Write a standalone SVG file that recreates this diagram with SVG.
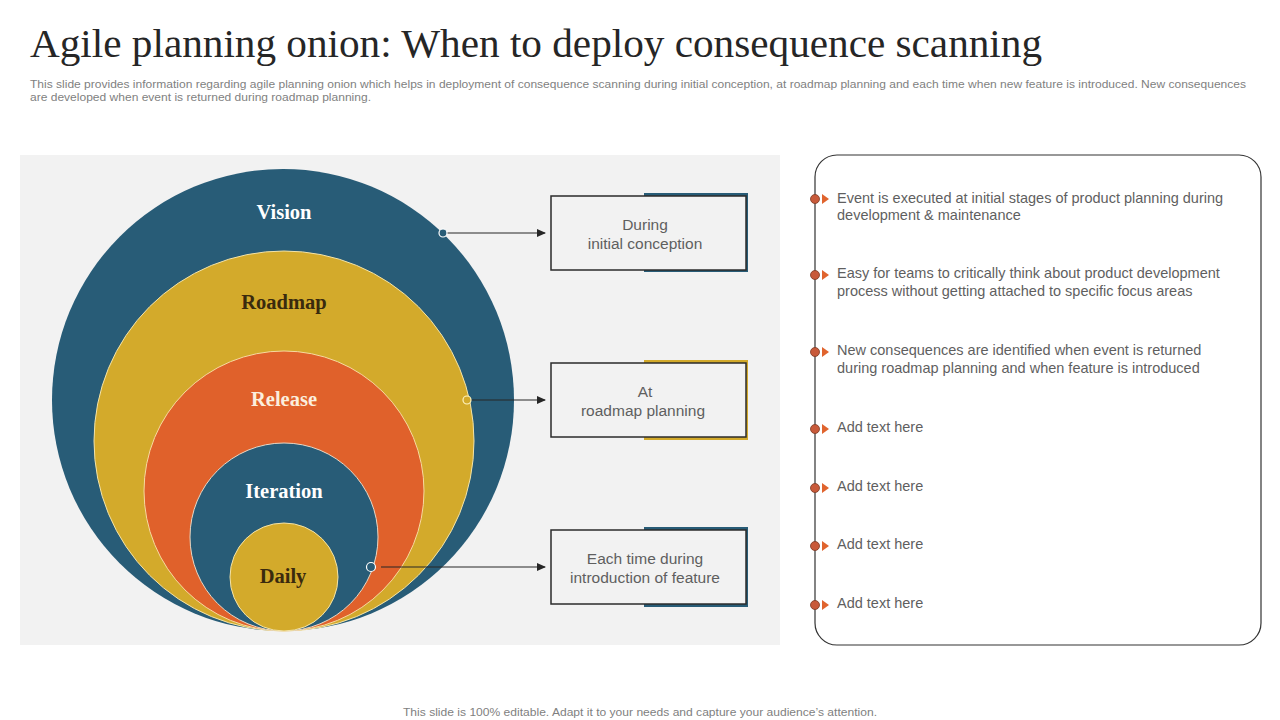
<svg xmlns="http://www.w3.org/2000/svg" width="1280" height="720" viewBox="0 0 1280 720">
<defs>
<style>
.title{font-family:"Liberation Serif",serif;font-size:40px;fill:#262626}
.sub{font-family:"Liberation Sans",Arial,sans-serif;font-size:10.5px;fill:#7f7f7f}
.foot{font-family:"Liberation Sans",Arial,sans-serif;font-size:11.5px;fill:#7f7f7f}
.lab{font-family:"Liberation Serif",serif;font-size:20.5px;font-weight:bold;text-anchor:middle}
.lt{fill:#ffffff}
.dk{fill:#3a2a0e}
.box{fill:#f2f2f2;stroke:#2b2b2b;stroke-width:1.5}
.bt{font-family:"Liberation Sans",Arial,sans-serif;font-size:15.5px;fill:#5f5f5f;text-anchor:middle}
.rt{font-family:"Liberation Sans",Arial,sans-serif;font-size:14.5px;fill:#5f5f5f}
.conn{stroke:#262626;stroke-width:1.2;fill:none}
.teal{fill:#285c77}
.gold{fill:#d3aa2b}
.orange{fill:#e0612b}
</style>
<marker id="arr" markerWidth="10" markerHeight="10" refX="8" refY="5" orient="auto" markerUnits="userSpaceOnUse">
<path d="M0,1 L9,5 L0,9 Z" fill="#262626"/>
</marker>
<g id="bullet">
<circle cx="0" cy="0" r="4.5" fill="#c85a3a" stroke="#7a3a25" stroke-width="0.8"/>
<path d="M7,-5 L14,0 L7,5 Z" fill="#e0642e"/>
</g>
</defs>

<rect width="1280" height="720" fill="#ffffff"/>

<text class="title" x="30" y="57" textLength="1012" lengthAdjust="spacingAndGlyphs">Agile planning onion: When to deploy consequence scanning</text>
<text class="sub" x="30" y="88" textLength="1216" lengthAdjust="spacingAndGlyphs">This slide provides information regarding agile planning onion which helps in deployment of consequence scanning during initial conception, at roadmap planning and each time when new feature is introduced. New consequences</text>
<text class="sub" x="30" y="101" textLength="341" lengthAdjust="spacingAndGlyphs">are developed when event is returned during roadmap planning.</text>

<rect id="panel" x="20" y="155" width="760" height="490" fill="#f2f2f2"/>

<g id="onion">
<g id="vision"><circle class="teal" cx="283" cy="400" r="231"/><text class="lab lt" x="284" y="219">Vision</text></g>
<g id="roadmap"><circle class="gold" cx="284" cy="441" r="190" stroke="#f3e3a8" stroke-width="1"/><text class="lab dk" x="284" y="309">Roadmap</text></g>
<g id="release"><circle class="orange" cx="284" cy="491" r="140" stroke="#f7d9a0" stroke-width="1"/><text class="lab" x="284" y="406" fill="#fbeedd">Release</text></g>
<g id="iteration"><circle class="teal" cx="284" cy="537" r="94" stroke="#e8d7c4" stroke-width="1"/><text class="lab lt" x="284" y="498">Iteration</text></g>
<g id="daily"><circle class="gold" cx="284" cy="577" r="54" stroke="#f3e3a8" stroke-width="1"/><text class="lab dk" x="283" y="583">Daily</text></g>
</g>

<g id="connectors">
<line class="conn" x1="447" y1="233" x2="545" y2="233" marker-end="url(#arr)"/>
<line class="conn" x1="471" y1="400" x2="545" y2="400" marker-end="url(#arr)"/>
<line class="conn" x1="381" y1="567" x2="545" y2="567" marker-end="url(#arr)"/>
<circle cx="443" cy="233" r="4" fill="#285c77" stroke="#ffffff" stroke-width="1.2"/>
<circle cx="467" cy="400" r="4" fill="#d3aa2b" stroke="#fff3c0" stroke-width="1.2"/>
<circle cx="371" cy="567" r="4.5" fill="#285c77" stroke="#ffffff" stroke-width="1.2"/>
</g>

<g id="box1">
<rect x="644" y="193" width="104" height="79" fill="#285c77"/>
<rect class="box" x="551" y="196" width="195" height="74"/>
<text class="bt" x="645" y="230">During</text>
<text class="bt" x="645" y="249">initial conception</text>
</g>
<g id="box2">
<rect x="644" y="360" width="104" height="80" fill="#d3aa2b"/>
<rect class="box" x="551" y="363" width="195" height="74"/>
<text class="bt" x="645" y="397">At</text>
<text class="bt" x="643" y="416">roadmap planning</text>
</g>
<g id="box3">
<rect x="644" y="527" width="104" height="80" fill="#285c77"/>
<rect class="box" x="551" y="530" width="195" height="74"/>
<text class="bt" x="645" y="564">Each time during</text>
<text class="bt" x="645" y="583">introduction  of feature</text>
</g>

<g id="list">
<rect x="815" y="155" width="446" height="490" rx="22" ry="22" fill="#ffffff" stroke="#333333" stroke-width="1.2"/>
<use href="#bullet" x="815" y="199"/>
<text class="rt" x="837" y="203">Event is executed at initial stages of product planning during</text>
<text class="rt" x="837" y="220">development &amp; maintenance</text>
<use href="#bullet" x="815" y="275"/>
<text class="rt" x="837" y="278">Easy for teams to critically think about product development</text>
<text class="rt" x="837" y="296">process without getting attached to specific focus areas</text>
<use href="#bullet" x="815" y="352"/>
<text class="rt" x="837" y="355">New consequences are identified when event is returned</text>
<text class="rt" x="837" y="373">during roadmap planning and when feature is introduced</text>
<use href="#bullet" x="815" y="429"/>
<text class="rt" x="837" y="432">Add text here</text>
<use href="#bullet" x="815" y="488"/>
<text class="rt" x="837" y="491">Add text here</text>
<use href="#bullet" x="815" y="546"/>
<text class="rt" x="837" y="549">Add text here</text>
<use href="#bullet" x="815" y="605"/>
<text class="rt" x="837" y="608">Add text here</text>
</g>

<text class="foot" x="640" y="716" text-anchor="middle" textLength="474" lengthAdjust="spacingAndGlyphs">This slide is 100% editable. Adapt it to your needs and capture your audience’s attention.</text>
</svg>
